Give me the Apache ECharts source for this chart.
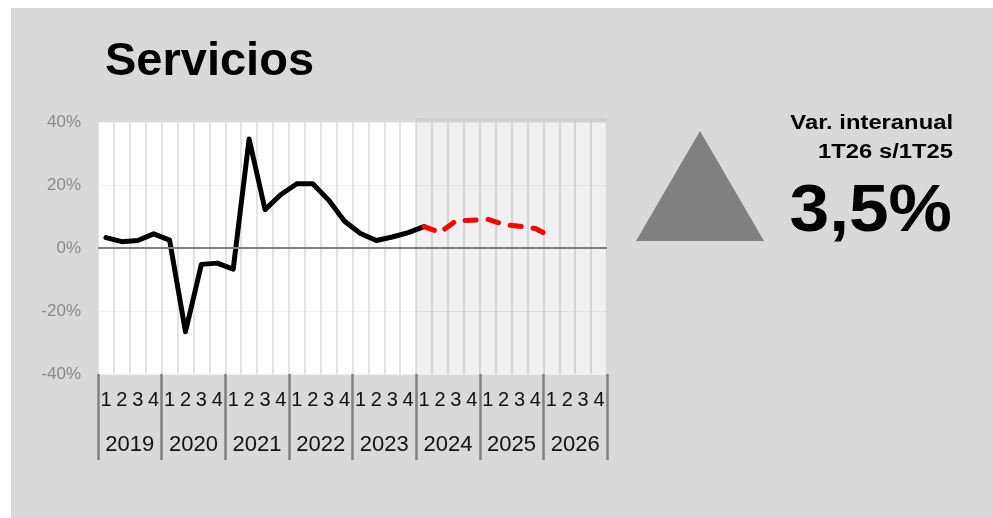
<!DOCTYPE html>
<html>
<head>
<meta charset="utf-8">
<script src="https://cdn.jsdelivr.net/npm/echarts@6/dist/echarts.min.js"></script>
<style>
  html, body { margin: 0; padding: 0; background: #ffffff; }
  #bg { position: absolute; left: 11px; top: 8px; width: 982px; height: 510px; background: #d9d9d9; }
  #chart { position: absolute; left: 0; top: 0; width: 993px; height: 518px; }
</style>
</head>
<body>
<div id="bg"></div>
<div id="chart"></div>
<script>
// ---- data ----
var years = ['2019', '2020', '2021', '2022', '2023', '2024', '2025', '2026'];
var quarters = ['1', '2', '3', '4'];
var yTicks = [-40, -20, 0, 20, 40];
// observed year-on-year variation (%), 2019Q1 .. 2024Q1
var actual = [3.3, 2.0, 2.4, 4.5, 2.5, -26.6, -5.2, -4.8, -6.7, 34.6, 12.2, 17.0,
              20.4, 20.4, 15.2, 8.5, 4.6, 2.4, 3.5, 4.9, 6.8];
// forecast (%), 2024Q1 .. 2026Q1
var forecast = [6.8, 4.9, 8.6, 8.8, 9.1, 7.5, 6.9, 6.2, 3.5];
var forecastStart = 20;   // index of 2024Q1
var shadeFrom = 20, shadeTo = 32; // 2024Q1 .. end of 2026
var headline = '3,5%';

// ---- build categories ----
var categories = [];
years.forEach(function (y) { quarters.forEach(function (q) { categories.push(y + '-' + q); }); });
var actualData = categories.map(function (c, i) { return i < actual.length ? actual[i] : null; });
var forecastData = categories.map(function (c, i) {
  var k = i - forecastStart;
  return (k >= 0 && k < forecast.length) ? forecast[k] : null;
});

var FONT = "'Liberation Sans', Arial, Helvetica, sans-serif";
var chart = echarts.init(document.getElementById('chart'), null, { renderer: 'canvas' });

var option = {
  backgroundColor: 'transparent',
  animation: false,
  grid: { left: 98, right: 386, top: 122, bottom: 144, show: true, backgroundColor: '#ffffff', borderWidth: 0 },
  xAxis: [
    {
      type: 'category', data: categories, boundaryGap: true,
      axisLine: { show: false }, axisTick: { show: false },
      axisLabel: { interval: 0, margin: 16, fontSize: 20, color: '#111111', fontFamily: FONT,
        formatter: function (v) { return v.split('-')[1]; } },
      splitLine: { show: true, interval: 0, lineStyle: { color: '#dadada', width: 1.5 } }
    },
    {
      type: 'category', data: years, boundaryGap: true, position: 'bottom',
      axisLine: { show: false },
      axisTick: { show: true, interval: 0, length: 86, lineStyle: { color: '#808080', width: 2.5 } },
      axisLabel: { interval: 0, margin: 60, fontSize: 22, color: '#111111', fontFamily: FONT },
      splitLine: { show: false }
    },
    { type: 'value', min: 0, max: categories.length, show: false, splitLine: { show: false } }
  ],
  yAxis: {
    type: 'value', min: yTicks[0], max: yTicks[yTicks.length - 1], interval: 20,
    axisLine: { show: false }, axisTick: { show: false },
    axisLabel: { formatter: '{value}%', fontSize: 17, color: '#8a8a8a', margin: 17, fontFamily: FONT },
    splitLine: { show: true, lineStyle: { color: '#f0f0f0', width: 1 } }
  },
  series: [
    {
      type: 'line', xAxisIndex: 2, data: [], z: 1, silent: true,
      markArea: { silent: true, itemStyle: { color: 'rgba(0,0,0,0.06)' },
        data: [[{ xAxis: shadeFrom }, { xAxis: shadeTo }]] },
      markLine: { silent: true, symbol: ['none', 'none'], label: { show: false },
        lineStyle: { color: '#808080', width: 2, type: 'solid' },
        data: [{ yAxis: 0 }] }
    },
    {
      type: 'line', xAxisIndex: 0, data: actualData, z: 3,
      showSymbol: false, symbol: 'none', connectNulls: false,
      lineStyle: { color: '#000000', width: 5, cap: 'round', join: 'round' }
    },
    {
      type: 'line', xAxisIndex: 0, data: forecastData, z: 4,
      showSymbol: false, symbol: 'none',
      lineStyle: { color: '#ff0000', width: 5, type: [11, 12], cap: 'round', join: 'round' }
    }
  ]
};
chart.setOption(option);

// decorations computed from the chart scales
var xa = chart.convertToPixel({ xAxisIndex: 2 }, shadeFrom);
var xb = chart.convertToPixel({ xAxisIndex: 2 }, shadeTo);
var yTop = chart.convertToPixel({ yAxisIndex: 0 }, yTicks[yTicks.length - 1]);

chart.setOption({
  graphic: [
    { type: 'rect', shape: { x: xa, y: yTop - 4, width: xb - xa, height: 4 }, style: { fill: '#cfcfcf' }, silent: true },
    { type: 'text', x: 105, y: 62, style: { text: 'Servicios', font: 'bold 47px ' + FONT, fill: '#000', align: 'left', verticalAlign: 'middle' } },
    { type: 'polygon', shape: { points: [[700, 131], [636, 241], [764, 241]] }, style: { fill: '#808080' } },
    { type: 'text', x: 953, y: 124, scaleX: 1.22, style: { text: 'Var. interanual', font: 'bold 19.5px ' + FONT, fill: '#000', align: 'right', verticalAlign: 'middle' } },
    { type: 'text', x: 953, y: 153, scaleX: 1.22, style: { text: '1T26 s/1T25', font: 'bold 19.5px ' + FONT, fill: '#000', align: 'right', verticalAlign: 'middle' } },
    { type: 'text', x: 952, y: 213, scaleX: 1.08, style: { text: headline, font: 'bold 66px ' + FONT, fill: '#000', align: 'right', verticalAlign: 'middle' } }
  ]
});
</script>
</body>
</html>
